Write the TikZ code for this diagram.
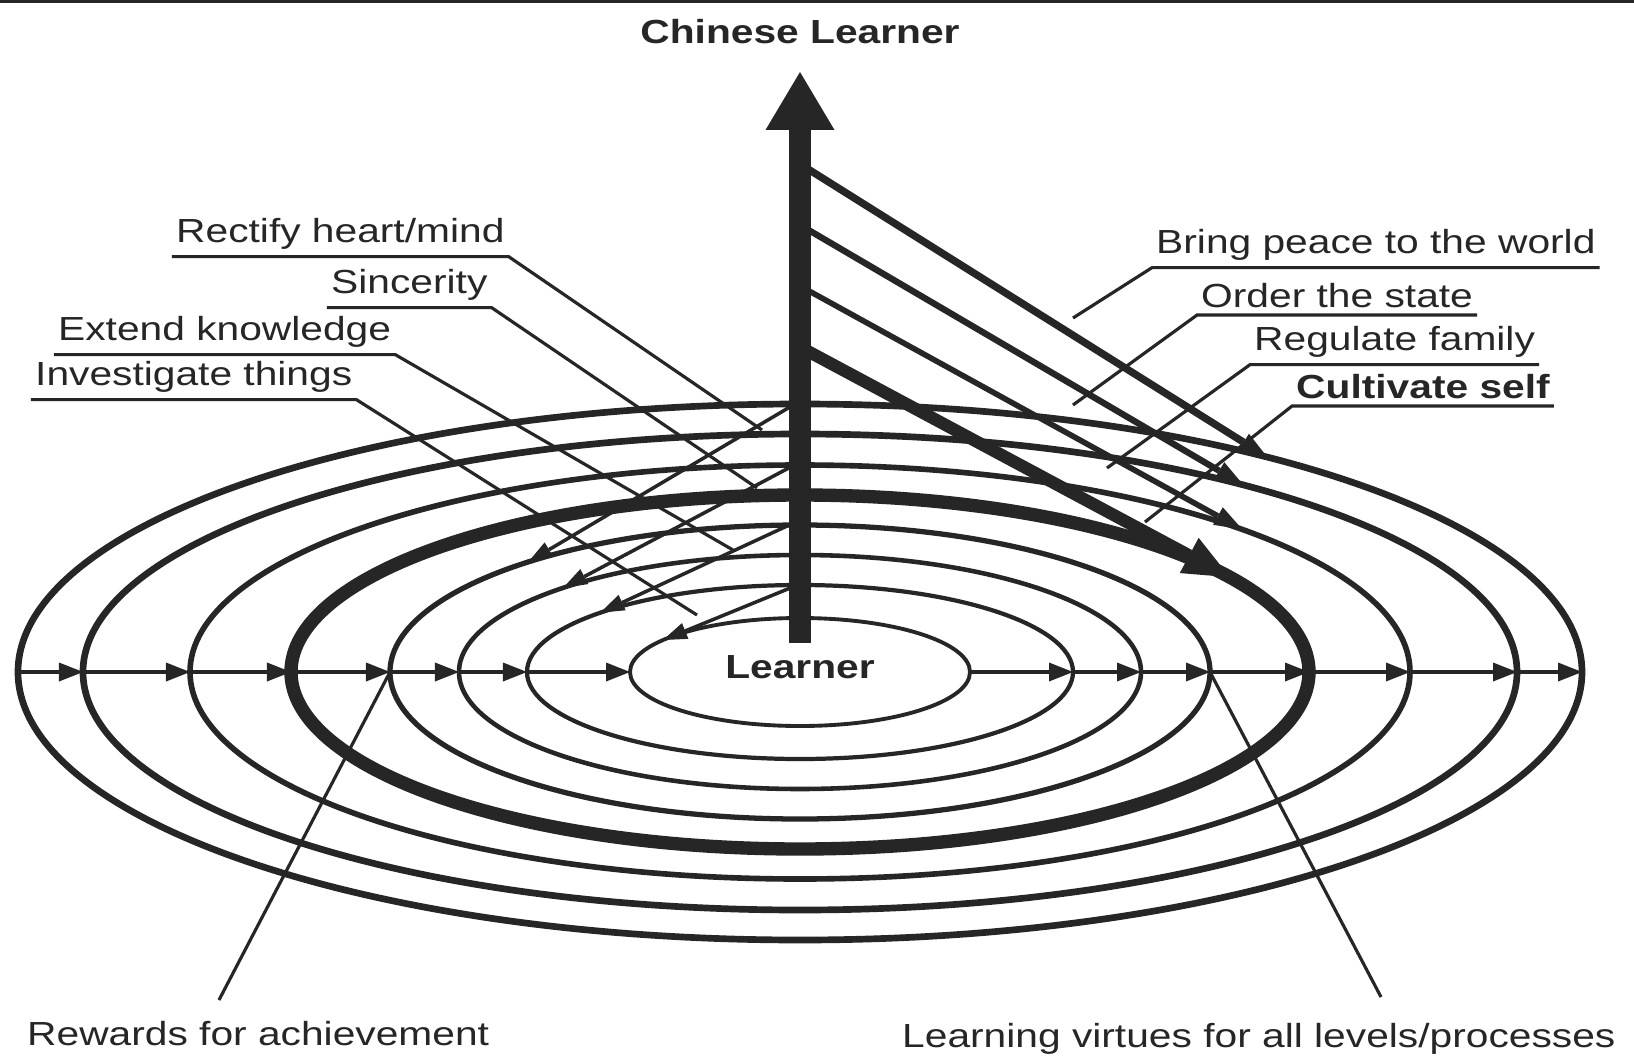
\documentclass[tikz,border=0pt]{standalone}
\usepackage{fontspec}
\setmainfont[FakeStretch=1.22]{Liberation Sans}
\usepackage{xcolor}
\usepackage{tikz}
\usetikzlibrary{arrows.meta,calc}

\definecolor{ink}{HTML}{262626}

\begin{document}
\begin{tikzpicture}[
    every node/.style={font=\fontsize{9.5}{11}\selectfont, text=ink, inner xsep=1pt, inner ysep=2pt},
    bold/.style={font=\fontsize{9.5}{11}\selectfont\bfseries},
    lbl/.style={anchor=base west},
    ring/.style={draw=ink, line width=#1},
    flow/.style={draw=ink, line width=1.2pt, -{Triangle[length=2.4mm, width=1.9mm, line width=0pt]}},
    inward/.style={draw=ink, line width=1pt, -{Triangle[length=2.4mm, width=1.7mm, line width=0pt]}},
    outward/.style={draw=ink, line width=#1, -{Triangle[length=2.8mm, width=2mm, line width=0pt]}},
    leader/.style={draw=ink, line width=0.9pt},
  ]
  \path[fill=white] (-8.00,-3.84) rectangle (8.34,6.72);
  \useasboundingbox (-8.00,-3.84) rectangle (8.34,6.72);
  \draw[ink, line width=0.85pt] (-8.00,6.705) -- (8.34,6.705);

  % rings, outermost first
  \foreach \n/\rx/\ry/\w in {1/7.82/2.68/1.9pt, 2/7.17/2.38/1.9pt, 3/6.10/2.07/1.6pt, 4/5.09/1.77/3.8pt,
                             5/4.10/1.47/1.5pt, 6/3.41/1.17/1.3pt, 7/2.73/0.87/1.2pt, 8/1.70/0.54/1.1pt} {
    \draw[ring=\w] (0,0) ellipse [x radius=\rx cm, y radius=\ry cm];
    \coordinate (L\n) at (-\rx,0);
    \coordinate (R\n) at (\rx,0);
  }
  \foreach \i/\j in {1/2,2/3,3/4,4/5,5/6,6/7,7/8} {
    \draw[flow] (L\i) -- (L\j);
    \draw[flow] (R\j) -- (R\i);
  }

  \node[bold, anchor=base] (learner) at (0,-0.06) {Learner};
  \node[bold, anchor=base] (chinese) at (0,6.29) {Chinese Learner};

  % down to the inner rings
  \coordinate (rect0) at (0,2.71);  \coordinate (rect1) at (131.5:4.10 and 1.47);
  \coordinate (sinc0) at (0,2.10);  \coordinate (sinc1) at (134:3.41 and 1.17);
  \coordinate (ext0)  at (0,1.52);  \coordinate (ext1)  at (137:2.73 and 0.87);
  \coordinate (inv0)  at (0,0.88);  \coordinate (inv1)  at (143.7:1.70 and 0.54);
  \draw[inward] (rect0) -- (rect1);
  \draw[inward] (sinc0) -- (sinc1);
  \draw[inward] (ext0) -- (ext1);
  \draw[inward] (inv0) -- (inv1);

  % out to the outer rings
  \coordinate (peace0)  at (0,5.08);  \coordinate (peace1)  at (53.3:7.82 and 2.68);
  \coordinate (state0)  at (0,4.47);  \coordinate (state1)  at (51.8:7.17 and 2.38);
  \coordinate (family0) at (0,3.86);  \coordinate (family1) at (43.5:6.10 and 2.07);
  \coordinate (self0)   at (0,3.25);  \coordinate (self1)   at (32.4:5.09 and 1.77);
  \draw[outward=2.1pt] (peace0) -- (peace1);
  \draw[outward=1.8pt] (state0) -- (state1);
  \draw[outward=1.6pt] (family0) -- (family1);
  \draw[ink, line width=3.5pt, -{Triangle[length=4.6mm, width=4mm, line width=0pt]}] (self0) -- (self1);

  \coordinate (base) at (0,0.29);
  \coordinate (peak) at (0,6.00);
  \draw[ink, line width=6.2pt, -{Triangle[length=5.8mm, width=6.9mm, line width=0pt]}] (base) -- (peak);

  \node[lbl] (rectify) at (-6.28,4.30) {Rectify heart/mind};
  \node[lbl] (sincere) at (-4.73,3.79) {Sincerity};
  \node[lbl] (extend)  at (-7.46,3.32) {Extend knowledge};
  \node[lbl] (invest)  at (-7.69,2.87) {Investigate things};
  \node[lbl] (peace)   at (3.52,4.19) {Bring peace to the world};
  \node[lbl] (state)   at (3.97,3.65) {Order the state};
  \node[lbl] (family)  at (4.50,3.22) {Regulate family};
  \node[lbl, bold] (self) at (4.92,2.74) {Cultivate self};
  \node[lbl] (reward)  at (-7.77,-3.73) {Rewards for achievement};
  \node[lbl] (virtue)  at (0.98,-3.75) {Learning virtues for all levels/processes};

  \coordinate (rectify-end) at (-0.38,2.42);
  \coordinate (sincere-end) at (-0.43,1.84);
  \coordinate (extend-end)  at (-0.67,1.22);
  \coordinate (invest-end)  at (-1.03,0.57);
  \coordinate (peace-end)   at (2.73,3.54);
  \coordinate (state-end)   at (2.73,2.67);
  \coordinate (family-end)  at (3.07,2.04);
  \coordinate (self-end)    at (3.45,1.50);
  \coordinate (reward-top)  at (-5.81,-3.28);
  \coordinate (virtue-top)  at (5.81,-3.25);

  \draw[leader] (rectify.south west) -- (rectify.south east) -- (rectify-end);
  \draw[leader] (sincere.south west) -- (sincere.south east) -- (sincere-end);
  \draw[leader] (extend.south west) -- (extend.south east) -- (extend-end);
  \draw[leader] (invest.south west) -- (invest.south east) -- (invest-end);
  \draw[leader] (peace.south east) -- (peace.south west) -- (peace-end);
  \draw[leader] (state.south east) -- (state.south west) -- (state-end);
  \draw[leader] (family.south east) -- (family.south west) -- (family-end);
  \draw[leader] (self.south east) -- (self.south west) -- (self-end);
  \draw[leader] (reward-top) -- (L5);
  \draw[leader] (virtue-top) -- (R5);
\end{tikzpicture}
\end{document}
